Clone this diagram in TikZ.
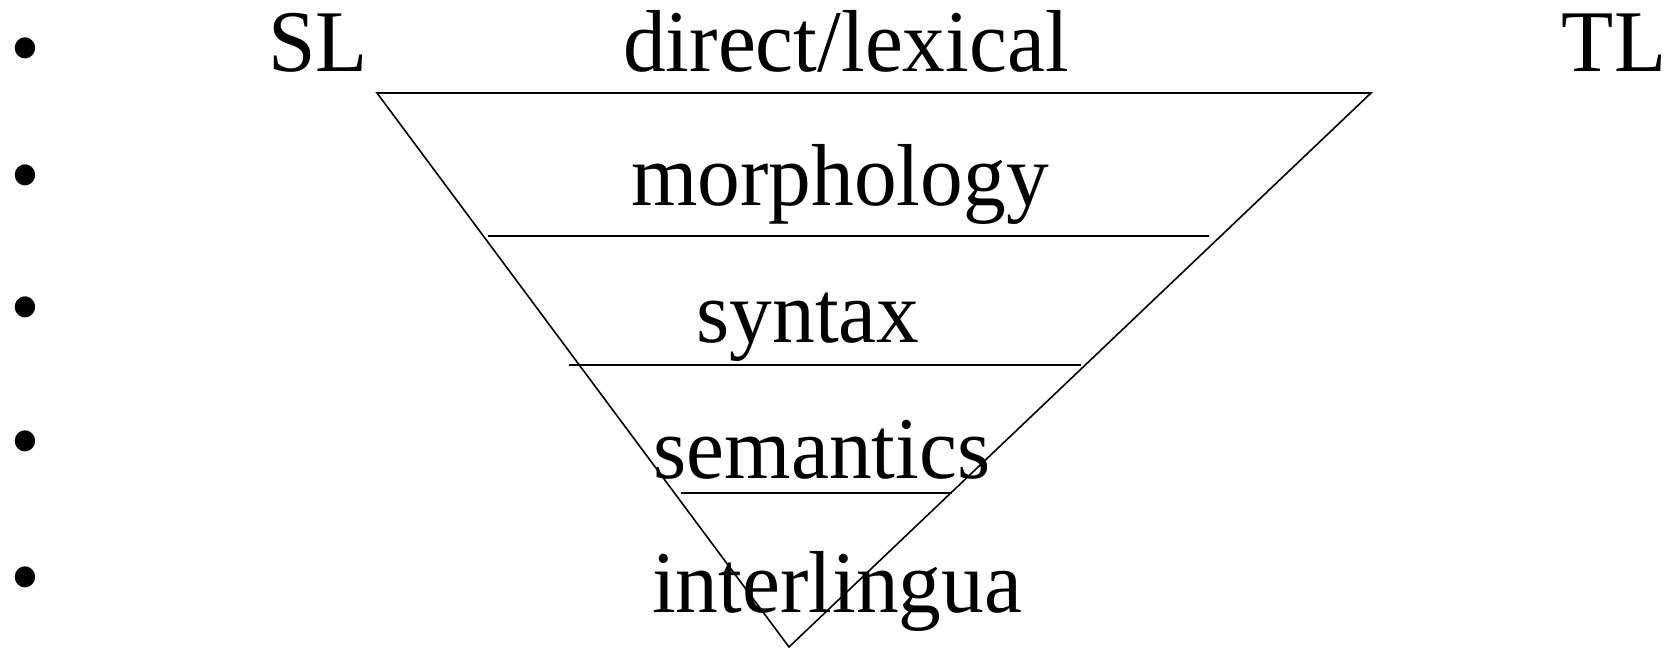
\documentclass[tikz,border=0pt]{standalone}
\usepackage{fontspec}
\setmainfont{Liberation Serif}[FakeStretch=0.97]
\begin{document}
\begin{tikzpicture}[x=0.5pt,y=-0.5pt,
  lbl/.style={anchor=base,inner sep=0pt,font=\fontsize{44}{48}\selectfont},
  bul/.style={anchor=center,inner sep=0pt,font=\fontsize{44}{48}\selectfont},
  ln/.style={line width=0.8pt}]
\useasboundingbox (0,0) rectangle (1676,652);
% triangle
\coordinate (tl) at (377,93);
\coordinate (tr) at (1371,93);
\coordinate (ap) at (789,647);
\draw[ln] (tl) -- (tr) -- (ap) -- cycle;
% layer lines
\coordinate (m1) at (488,236); \coordinate (m2) at (1209,236);
\coordinate (s1) at (569,365); \coordinate (s2) at (1081,365);
\coordinate (e1) at (681,493); \coordinate (e2) at (952,493);
\draw[ln] (m1) -- (m2);
\draw[ln] (s1) -- (s2);
\draw[ln] (e1) -- (e2);
% bullets
\node[bul] (b1) at (25,58) {•};
\node[bul] (b2) at (25,185) {•};
\node[bul] (b3) at (25,317) {•};
\node[bul] (b4) at (25,451) {•};
\node[bul] (b5) at (25,587) {•};
% labels
\node[lbl] (sl) at (318,72) {SL};
\node[lbl] (dl) at (846,72) {direct/lexical};
\node[lbl] (tlab) at (1614,72) {TL};
\node[lbl] (mo) at (840,206) {morphology};
\node[lbl] (sy) at (808,343) {syntax};
\node[lbl] (se) at (822,478) {semantics};
\node[lbl] (il) at (837,612) {interlingua};
\end{tikzpicture}
\end{document}
